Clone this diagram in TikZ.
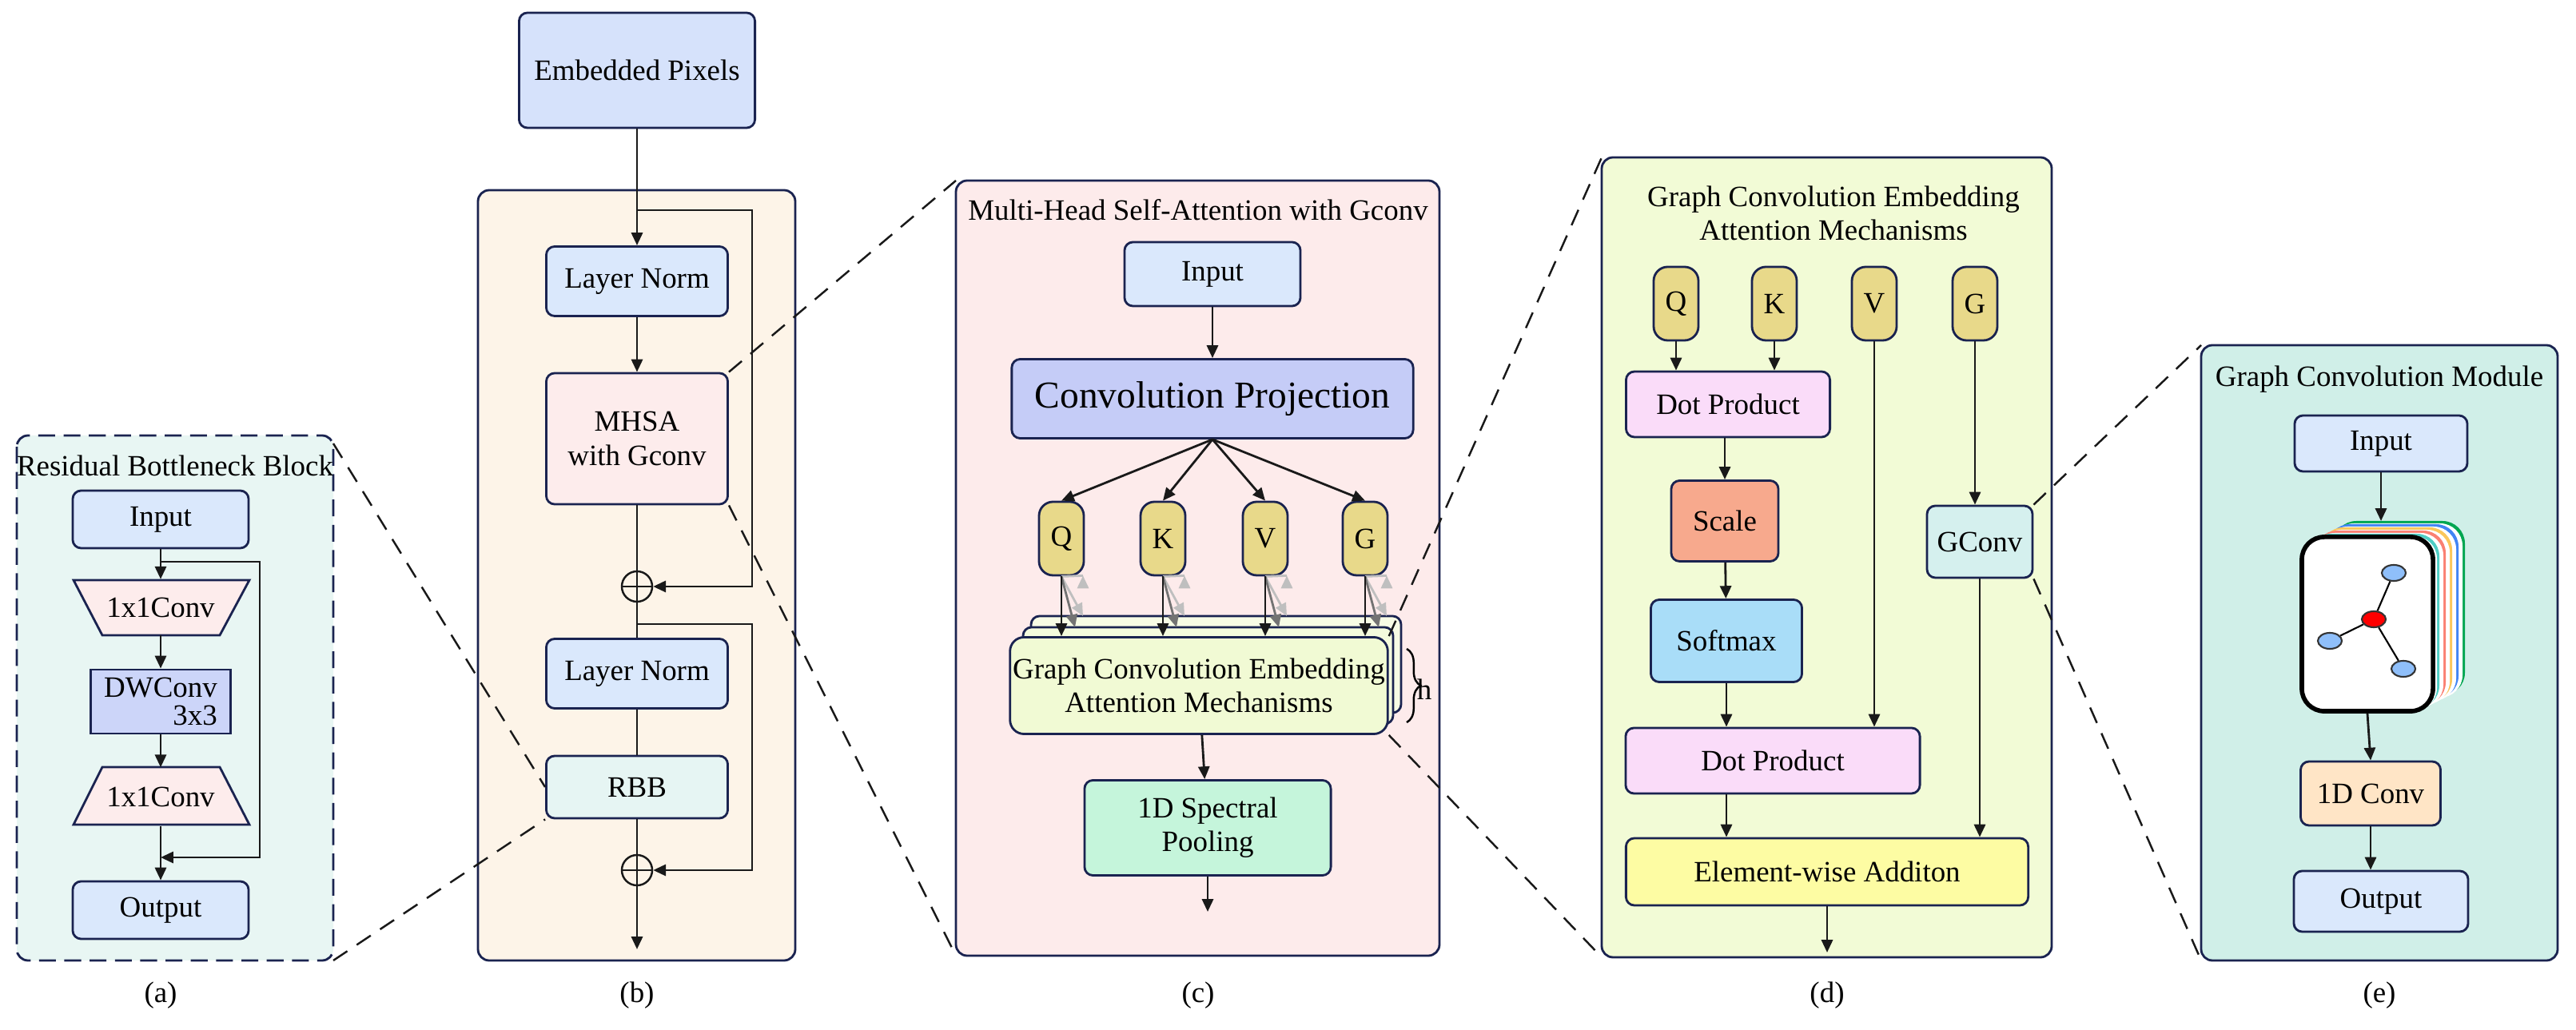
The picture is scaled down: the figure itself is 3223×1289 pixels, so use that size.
\documentclass[tikz,border=0pt]{standalone}
\usepackage{fontspec}
\setmainfont{Liberation Serif}
\usetikzlibrary{arrows.meta,decorations.pathreplacing,calc}
\newcommand\myfs{\fontsize{10.5}{12}\selectfont}
\definecolor{bd}{HTML}{1A2350}
\definecolor{cInput}{HTML}{DAE8FC}
\definecolor{cTrap}{HTML}{FDECEC}
\definecolor{cDW}{HTML}{CCD5F9}
\definecolor{cA}{HTML}{E8F6F3}
\definecolor{cB}{HTML}{FDF4E8}
\definecolor{cC}{HTML}{FDEBEB}
\definecolor{cD}{HTML}{F2FBD6}
\definecolor{cE}{HTML}{D0EFE8}
\definecolor{cRBB}{HTML}{E6F5F3}
\definecolor{cProj}{HTML}{C5CCF7}
\definecolor{cQ}{HTML}{E8D98A}
\definecolor{cGCE}{HTML}{F1FAD4}
\definecolor{cSP}{HTML}{C5F5DB}
\definecolor{cDot}{HTML}{FADCF9}
\definecolor{cScale}{HTML}{F7A98D}
\definecolor{cSoft}{HTML}{A9DDF8}
\definecolor{cGC}{HTML}{D5F0EE}
\definecolor{cEW}{HTML}{FDFCA3}
\definecolor{cConv}{HTML}{FFE5C6}
\definecolor{gGreen}{HTML}{00A651}
\definecolor{gBlue}{HTML}{4285F4}
\definecolor{gYel}{HTML}{FBC75B}
\definecolor{gSal}{HTML}{FA8072}
\definecolor{gTeal}{HTML}{4ECDC4}
\definecolor{gNode}{HTML}{8FBFFA}
\tikzset{
  box/.style={draw=bd,line width=0.8pt,rounded corners=3pt,align=center,font=\myfs,inner sep=1pt},
  panel/.style={draw=bd,line width=0.8pt,rounded corners=4pt},
  arr/.style={-{Triangle[length=4.5pt,width=4pt]},line width=0.8pt,black!90},
  ln/.style={line width=0.8pt,black!90},
  zoomln/.style={dashed,dash pattern=on 6pt off 4pt,line width=0.7pt,black!90},
  lab/.style={font=\myfs},
  plus/.style={circle,draw=black!90,line width=0.7pt,minimum size=0.38cm,inner sep=0pt},
  gnode/.style={ellipse,draw=black!80,line width=0.6pt,minimum width=0.3cm,minimum height=0.2cm,inner sep=0pt}
}
\usetikzlibrary{shapes.geometric}
\begin{document}
\begin{tikzpicture}[x=0.01cm,y=-0.01cm]
\useasboundingbox (0,0) rectangle (3223,1289);
\fill[white] (0,0) rectangle (3223,1289);

% ---------- panel backgrounds
\draw[panel,fill=cA,dashed,dash pattern=on 6pt off 3pt] (21,545) rectangle (417,1202);
\draw[panel,fill=cB] (598,238) rectangle (995,1202);
\draw[panel,fill=cC] (1196,226) rectangle (1801,1196);
\draw[panel,fill=cD] (2004,197) rectangle (2567,1198);
\draw[panel,fill=cE] (2754,432) rectangle (3200,1202);

% ---------- (a)
\node[lab] (ta) at (219,583) {Residual Bottleneck Block};
\node[box,fill=cInput,minimum width=2.2cm,minimum height=0.72cm] (ain) at (201,650) {Input};
\fill[cTrap] (92,726) -- (312,726) -- (275,795) -- (128,795) -- cycle;
\draw[bd,line width=0.8pt] (92,726) -- (312,726) -- (275,795) -- (128,795) -- cycle;
\node[font=\myfs,minimum width=2.2cm,minimum height=0.69cm,inner sep=0pt] (at1) at (201,760) {1x1Conv};
\node[box,rounded corners=0pt,fill=cDW,minimum width=1.75cm,minimum height=0.8cm,align=right] (adw) at (201,878) {DWConv\\[-2pt]3x3};
\fill[cTrap] (128,960) -- (275,960) -- (312,1032) -- (92,1032) -- cycle;
\draw[bd,line width=0.8pt] (128,960) -- (275,960) -- (312,1032) -- (92,1032) -- cycle;
\node[font=\myfs,minimum width=2.2cm,minimum height=0.72cm,inner sep=0pt] (at2) at (201,997) {1x1Conv};
\node[box,fill=cInput,minimum width=2.2cm,minimum height=0.72cm] (aout) at (201,1139) {Output};
\draw[arr] (ain) -- (at1);
\draw[arr] (at1) -- (adw);
\draw[arr] (adw) -- (at2);
\draw[arr] (at2) -- (aout);
\coordinate (as1) at (201,703);
\coordinate (as2) at (201,1073);
\draw[arr] (as1) -- (325,703) -- (325,1073) -- (as2);
\node[lab] at (201,1246) {(a)};

% ---------- (b)
\node[box,fill=cInput!70!cDW,minimum width=2.95cm,minimum height=1.44cm] (emb) at (797,88) {Embedded Pixels};
\node[box,fill=cInput,minimum width=2.27cm,minimum height=0.87cm] (ln1) at (797,352) {Layer Norm};
\node[box,fill=cTrap,minimum width=2.27cm,minimum height=1.64cm] (mhsa) at (797,549) {MHSA\\with Gconv};
\node[plus] (p1) at (797,734) {};
\draw[ln] (p1.north) -- (p1.south) (p1.west) -- (p1.east);
\node[box,fill=cInput,minimum width=2.27cm,minimum height=0.87cm] (ln2) at (797,843) {Layer Norm};
\node[box,fill=cRBB,minimum width=2.27cm,minimum height=0.78cm] (rbb) at (797,985) {RBB};
\node[plus] (p2) at (797,1089) {};
\draw[ln] (p2.north) -- (p2.south) (p2.west) -- (p2.east);
\coordinate (bout) at (797,1188);
\draw[arr] (emb) -- (ln1);
\draw[arr] (ln1) -- (mhsa);
\draw[ln] (mhsa) -- (p1);
\draw[ln] (p1) -- (ln2);
\draw[ln] (ln2) -- (rbb);
\draw[ln] (rbb) -- (p2);
\draw[arr] (p2) -- (bout);
\coordinate (bs1) at (797,263);
\coordinate (bs2) at (797,781);
\draw[arr] (bs1) -- (941,263) -- (941,734) -- (p1.east);
\draw[arr] (bs2) -- (941,781) -- (941,1089) -- (p2.east);
\node[lab] at (797,1246) {(b)};

% ---------- (c)
\node[lab] at (1499,263) {Multi-Head Self-Attention with Gconv};
\node[box,fill=cInput,minimum width=2.2cm,minimum height=0.8cm] (cin) at (1517,343) {Input};
\node[box,fill=cProj,minimum width=5.02cm,minimum height=0.99cm,font=\fontsize{13.5}{15}\selectfont] (proj) at (1517,499) {Convolution Projection};
\foreach \n/\x in {Q/1328,K/1455,V/1583,G/1708}{
  \node[box,fill=cQ,rounded corners=5pt,minimum width=0.56cm,minimum height=0.92cm] (c\n) at (\x,674) {\n};
}
\draw[arr] (cin) -- (proj);
\foreach \n in {Q,K,V,G}{ \draw[arr] (proj.south) -- (c\n.north); }
\draw[box,fill=cGCE!60!white] (1290,771) rectangle (1753,892);
\draw[box,fill=cGCE!80!white] (1280,785) rectangle (1743,906);
\node[box,fill=cGCE,minimum width=4.65cm,minimum height=1.21cm,rounded corners=5pt] (gce) at (1500,858) {Graph Convolution Embedding\\Attention Mechanisms};
\foreach \n in {Q,K,V,G}{
  \draw[arr,black!25] (c\n.south) -- ($(c\n.south)+(27,-1)$) ++(0,0) coordinate (tmp) ;
  \draw[-{Triangle[length=4.5pt,width=4pt]},line width=0.8pt,black!25] (c\n.south) -- ([xshift=0.27cm]c\n.south |- 0,771);
  \draw[-{Triangle[length=4.5pt,width=4pt]},line width=0.8pt,black!55] (c\n.south) -- ([xshift=0.17cm]c\n.south |- 0,785);
  \draw[arr] (c\n.south) -- (c\n.south |- gce.north);
}
\draw[line width=0.7pt,decorate,decoration={brace,amplitude=5pt}] (1760,812) -- (1760,904) coordinate[midway] (hb);
\node[font=\myfs] (hh) at (1782,863) {h};
\node[box,fill=cSP,minimum width=3.08cm,minimum height=1.19cm] (sp) at (1511,1036) {1D Spectral\\Pooling};
\coordinate (cout) at (1511,1141);
\draw[arr] (gce) -- (sp);
\draw[arr] (sp) -- (cout);
\node[lab] at (1499,1246) {(c)};

% ---------- (d)
\node[lab,align=center] at (2294,267) {Graph Convolution Embedding\\Attention Mechanisms};
\foreach \n/\x in {Q/2097,K/2220,V/2345,G/2471}{
  \node[box,fill=cQ,rounded corners=5pt,minimum width=0.56cm,minimum height=0.92cm] (d\n) at (\x,380) {\n};
}
\node[box,fill=cDot,minimum width=2.55cm,minimum height=0.82cm] (dot1) at (2162,506) {Dot Product};
\node[box,fill=cScale,minimum width=1.34cm,minimum height=1.01cm] (scale) at (2158,652) {Scale};
\node[box,fill=cSoft,minimum width=1.89cm,minimum height=1.03cm] (soft) at (2160,802) {Softmax};
\node[box,fill=cDot,minimum width=3.68cm,minimum height=0.82cm] (dot2) at (2218,952) {Dot Product};
\node[box,fill=cGC,minimum width=1.32cm,minimum height=0.9cm] (gconv) at (2477,678) {GConv};
\node[box,fill=cEW,minimum width=5.03cm,minimum height=0.84cm] (ew) at (2286,1091) {Element-wise Additon};
\coordinate (dout) at (2286,1192);
\draw[arr] (dQ.south) -- (dQ.south |- dot1.north);
\draw[arr] (dK.south) -- (dK.south |- dot1.north);
\draw[arr] (dV.south) -- (dV.south |- dot2.north);
\draw[arr] (dG.south) -- (dG.south |- gconv.north);
\draw[arr] (dot1.south -| scale.north) -- (scale.north);
\draw[arr] (scale) -- (soft);
\draw[arr] (soft.south) -- (soft.south |- dot2.north);
\draw[arr] (soft.south |- dot2.south) -- (soft.south |- ew.north);
\draw[arr] (gconv.south) -- (gconv.south |- ew.north);
\draw[arr] (ew) -- (dout);
\node[lab] at (2286,1246) {(d)};

% ---------- (e)
\node[lab] at (2977,475) {Graph Convolution Module};
\node[box,fill=cInput,minimum width=2.16cm,minimum height=0.7cm] (ein) at (2979,555) {Input};
\foreach \k/\c in {5/gGreen,4/gBlue,3/gYel,2/gSal,1/gTeal}{
  \fill[\c,rounded corners=8pt] ($(2880,672)+(\k*8,-\k*4)$) rectangle ($(3044,890)+(\k*8,-\k*4)$);
  \fill[white,rounded corners=8pt] ($(2880,672)+(\k*8-3,-\k*4+3)$) rectangle ($(3044,890)+(\k*8-3,-\k*4+3)$);
}
\node[draw=black,line width=1.6pt,fill=white,rounded corners=8pt,minimum width=1.64cm,minimum height=2.18cm] (card) at (2962,781) {};
\node[gnode,fill=red] (gr) at (2970,775) {};
\node[gnode,fill=gNode] (g1) at (2995,717) {};
\node[gnode,fill=gNode] (g2) at (2915,802) {};
\node[gnode,fill=gNode] (g3) at (3007,837) {};
\draw[line width=0.6pt] (gr) -- (g1) (gr) -- (g2) (gr) -- (g3);
\node[box,fill=cConv,minimum width=1.75cm,minimum height=0.8cm] (econv) at (2966,993) {1D Conv};
\node[box,fill=cInput,minimum width=2.18cm,minimum height=0.76cm] (eout) at (2979,1128) {Output};
\coordinate (etop) at (2979,652);
\draw[arr] (ein) -- (etop);
\draw[arr] (card.south) -- (econv.north);
\draw[arr] (econv.south) -- (econv.south |- eout.north);
\node[lab] at (2977,1246) {(e)};

% ---------- zoom lines
\draw[zoomln] (417,555) -- (rbb.west);
\draw[zoomln] (417,1202) -- (rbb.south west);
\draw[zoomln] (mhsa.north east) -- (1196,226);
\draw[zoomln] (mhsa.south east) -- (1196,1196);
\draw[zoomln] (gce.north east) -- (2004,197);
\draw[zoomln] (gce.south east) -- (2004,1198);
\draw[zoomln] (gconv.north east) -- (2754,432);
\draw[zoomln] (gconv.south east) -- (2754,1202);
\end{tikzpicture}
\end{document}
